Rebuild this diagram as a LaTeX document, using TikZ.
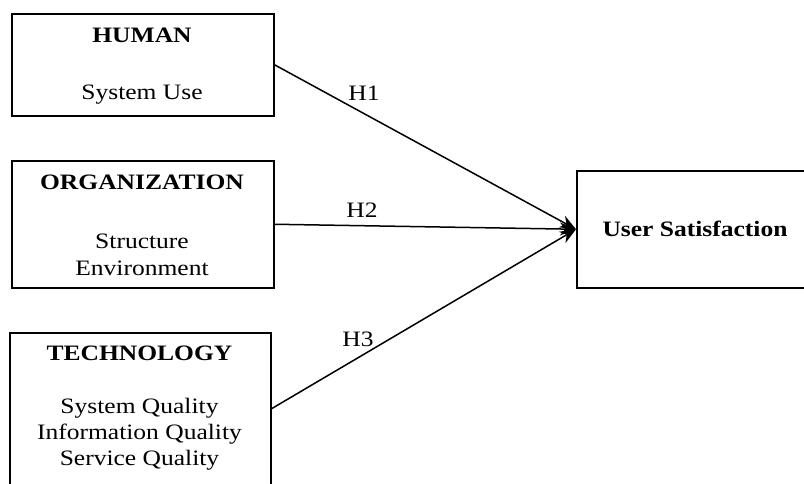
\documentclass[tikz,border=0pt]{standalone}
\usepackage{fontspec}
\setmainfont{Liberation Serif}[FakeStretch=1.16]
\usetikzlibrary{arrows.meta}
\begin{document}
\begin{tikzpicture}[x=1pt,y=-1pt,
  box/.style={draw,line width=1.5pt,inner sep=0pt,anchor=north west},
  txt/.style={anchor=base,inner sep=0pt,font=\fontsize{22}{26}\selectfont},
  ttl/.style={anchor=base,inner sep=0pt,font=\fontsize{22}{26}\selectfont\bfseries},
  arr/.style={line width=1.5pt,-{Stealth[length=16pt,width=13pt]}}]
\useasboundingbox (0,0) rectangle (804,483);
\clip (0,0) rectangle (804,483);
% boxes
\node[box,minimum width=262pt,minimum height=102pt] (human) at (11,13) {};
\node[box,minimum width=262pt,minimum height=127pt] (org) at (11,160) {};
\node[box,minimum width=261pt,minimum height=152pt] (tech) at (9,332) {};
\node[box,minimum width=238pt,minimum height=117pt] (user) at (576,170) {};
% texts
\node[ttl] (humant) at (142,42) {HUMAN};
\node[txt] (humana) at (142,99) {System Use};
\node[ttl] (orgt) at (142,189) {ORGANIZATION};
\node[txt] (orga) at (142,248) {Structure};
\node[txt] (orgb) at (142,275) {Environment};
\node[ttl] (techt) at (139.5,360) {TECHNOLOGY};
\node[txt] (techa) at (139.5,413) {System Quality};
\node[txt] (techb) at (139.5,439) {Information Quality};
\node[txt] (techc) at (139.5,465) {Service Quality};
\node[ttl] (usert) at (695,236) {User Satisfaction};
% connectors
\draw[arr] (human.east) -- (user.west);
\draw[arr] (org.east) -- (user.west);
\draw[arr] (tech.east) -- (user.west);
% labels
\node[txt] (h1) at (364,100) {H1};
\node[txt] (h2) at (362,217) {H2};
\node[txt] (h3) at (358,346) {H3};
\end{tikzpicture}
\end{document}
